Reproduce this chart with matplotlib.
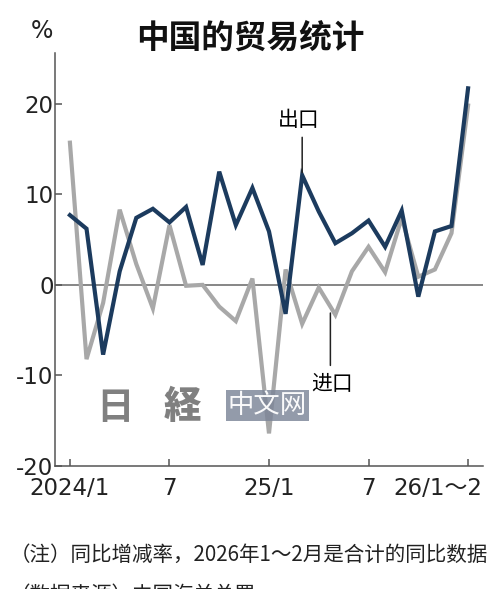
import matplotlib
matplotlib.use("Agg")
import matplotlib.pyplot as plt
import matplotlib.transforms as mtransforms
from matplotlib import font_manager

# monthly data, 2024/1 .. 2025/12, then 2026/1~2 combined
months = ["2024/1", "2", "3", "4", "5", "6", "7", "8", "9", "10", "11", "12",
          "25/1", "2", "3", "4", "5", "6", "7", "8", "9", "10", "11", "12",
          "26/1～2"]
exports = [7.7, 6.2, -7.7, 1.5, 7.4, 8.4, 6.9, 8.6, 2.2, 12.5, 6.6, 10.7,
           5.9, -3.2, 12.1, 8.1, 4.6, 5.7, 7.1, 4.2, 8.2, -1.3, 5.9, 6.5,
           21.7]
imports = [15.7, -8.2, -2.0, 8.3, 2.3, -2.6, 6.6, -0.1, 0.0, -2.4, -4.0, 0.7,
           -16.4, 1.7, -4.3, -0.3, -3.3, 1.5, 4.2, 1.4, 7.4, 0.9, 1.7, 5.7,
           19.8]
tick_idx = [0, 6, 12, 18, 24]
tick_labels = ["2024/1", "7", "25/1", "7", "26/1～2"]
y_ticks = [-20, -10, 0, 10, 20]

names = {f.name for f in font_manager.fontManager.ttflist}
num_font = "Liberation Sans Narrow" if "Liberation Sans Narrow" in names else "DejaVu Sans"
cjk = "Noto Sans CJK SC"
plt.rcParams["font.family"] = [num_font, cjk]

BLUE = "#1c3b5e"
GREY = "#a8a8a8"
AXC = "#555555"

fig = plt.figure(figsize=(5, 5.89), dpi=100)
ax = fig.add_axes([0.11, 0.2088, 0.856, 0.7012])

x = list(range(len(months)))
ax.axhline(0, color="#666666", lw=1.1, zorder=1)
ax.plot(x, imports, color=GREY, lw=3.0, solid_joinstyle="miter", zorder=2)
ax.plot(x, exports, color=BLUE, lw=3.0, solid_joinstyle="miter", zorder=3)

ax.set_xlim(-0.9, 24.9)
ax.set_ylim(-20, 25.6)
for s in ["top", "right"]:
    ax.spines[s].set_visible(False)
for s in ["left", "bottom"]:
    ax.spines[s].set_color(AXC)
    ax.spines[s].set_linewidth(1.1)

ax.set_yticks(y_ticks)
ax.set_yticklabels([str(v) for v in y_ticks])
ax.set_xticks(tick_idx)
ax.set_xticklabels(tick_labels)
ax.tick_params(direction="in", length=5, width=1.1, color=AXC,
               labelsize=16.5, labelcolor="#222222")
ax.tick_params(axis="y", pad=1)
ax.tick_params(axis="x", pad=8)
for lab in ax.get_xticklabels():
    lab.set_fontfamily([num_font, cjk])
last = ax.get_xticklabels()[-1]
last.set_horizontalalignment("right")
last.set_transform(last.get_transform() +
                   mtransforms.ScaledTranslation(0.14, 0, fig.dpi_scale_trans))

# annotations
ax.annotate("", xy=(14, exports[14]), xytext=(14, 16.6),
            arrowprops=dict(arrowstyle="-", color="#222222", lw=1.1))
ax.text(13.8, 18.2, "出口", fontsize=15, family=cjk, ha="center", va="center")
ax.annotate("", xy=(15.7, -2.8), xytext=(15.7, -9.2),
            arrowprops=dict(arrowstyle="-", color="#222222", lw=1.1))
ax.text(15.8, -10.9, "进口", fontsize=15, family=cjk, ha="center", va="center")

# watermark
ax.text(11.9, -13.3, "中文网", fontsize=19, family=cjk, color="white",
        ha="center", va="center", alpha=0.95, zorder=4,
        bbox=dict(boxstyle="square,pad=0.08", fc="#7c8597", ec="none", alpha=0.82))
ax.text(2.7, -13.5, "日", fontsize=27, family=cjk, weight="black",
        color="#6a6a6a", ha="center", va="center", alpha=0.85)
ax.text(6.8, -13.5, "経", fontsize=27, family="Noto Sans CJK JP", weight="black",
        color="#6a6a6a", ha="center", va="center", alpha=0.85)

fig.text(0.5, 0.935, "中国的贸易统计", fontsize=23.5, family=cjk, weight="bold",
         ha="center", va="center", color="#111111")
fig.text(0.084, 0.948, "%", fontsize=17, family=num_font, ha="center",
         va="center", color="#222222")
fig.text(0.02, 0.058, "（注）同比增减率，2026年1～2月是合计的同比数据",
         fontsize=14.8, family=cjk, ha="left", va="center", color="#222222")
fig.text(0.02, -0.01, "（数据来源）中国海关总署",
         fontsize=14.8, family=cjk, ha="left", va="center", color="#222222")

fig.savefig("out.png", dpi=100)
